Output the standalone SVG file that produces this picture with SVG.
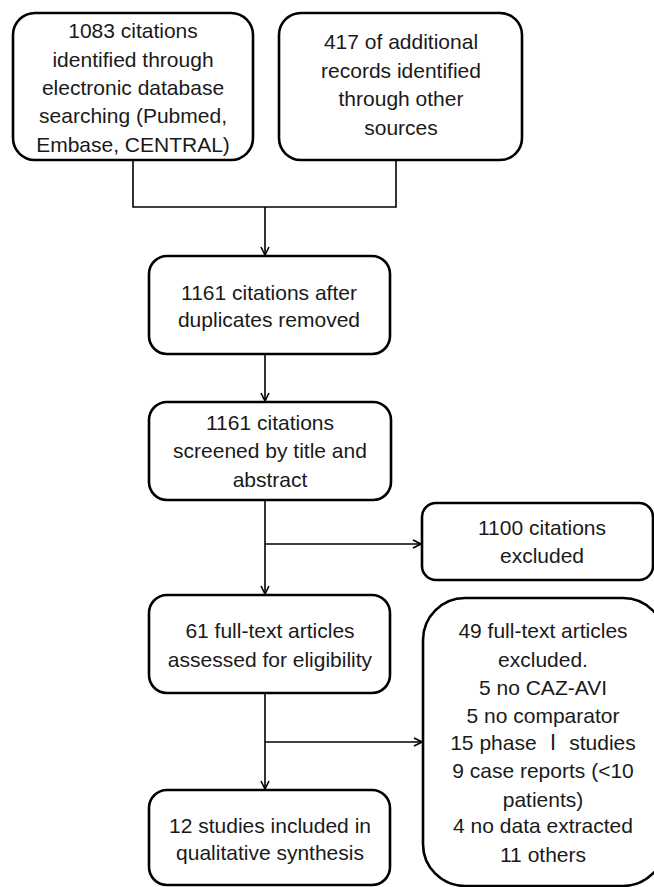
<svg xmlns="http://www.w3.org/2000/svg" width="654" height="887" viewBox="0 0 654 887">
<style>
.box{fill:#fff;stroke:#000;stroke-width:2.6}
.t{font-family:"Liberation Sans","Noto Sans CJK SC",sans-serif;font-size:21px;fill:#1a1a1a;text-anchor:middle}
.c{fill:none;stroke:#000;stroke-width:1.6}
</style>
<defs>
<marker id="arr" viewBox="0 0 10 10" refX="9" refY="5" markerWidth="10" markerHeight="10" markerUnits="userSpaceOnUse" orient="auto">
<path d="M1,1 L9,5 L1,9" fill="none" stroke="#000" stroke-width="1.6"/>
</marker>
</defs>
<rect width="654" height="887" fill="#fff"/>
<g id="connectors">
<path class="c" d="M133,160 V207 H396 V160"/>
<path class="c" d="M265,207 V255" marker-end="url(#arr)"/>
<path class="c" d="M265,354 V401" marker-end="url(#arr)"/>
<path class="c" d="M265,500 V594" marker-end="url(#arr)"/>
<path class="c" d="M265,544 H421" marker-end="url(#arr)"/>
<path class="c" d="M265,693 V789" marker-end="url(#arr)"/>
<path class="c" d="M265,742 H422" marker-end="url(#arr)"/>
</g>
<g id="n1">
<rect class="box" x="13" y="13" width="240" height="147" rx="22"/>
<text class="t" x="133" y="38">1083 citations</text>
<text class="t" x="133" y="67">identified through</text>
<text class="t" x="133" y="95">electronic database</text>
<text class="t" x="133" y="123">searching (Pubmed,</text>
<text class="t" x="133" y="152">Embase, CENTRAL)</text>
</g>
<g id="n2">
<rect class="box" x="279" y="13" width="243" height="147" rx="22"/>
<text class="t" x="401" y="49">417 of additional</text>
<text class="t" x="401" y="78">records identified</text>
<text class="t" x="401" y="106">through other</text>
<text class="t" x="401" y="135">sources</text>
</g>
<g id="n3">
<rect class="box" x="149" y="256" width="241" height="98" rx="18"/>
<text class="t" x="269" y="300">1161 citations after</text>
<text class="t" x="269" y="327">duplicates removed</text>
</g>
<g id="n4">
<rect class="box" x="149" y="402" width="242" height="98" rx="18"/>
<text class="t" x="270" y="430">1161 citations</text>
<text class="t" x="270" y="458">screened by title and</text>
<text class="t" x="270" y="487">abstract</text>
</g>
<g id="n5">
<rect class="box" x="422" y="503" width="231" height="77" rx="14"/>
<text class="t" x="542" y="535">1100 citations</text>
<text class="t" x="542" y="563">excluded</text>
</g>
<g id="n6">
<rect class="box" x="149" y="595" width="241" height="98" rx="18"/>
<text class="t" x="270" y="638">61 full-text  articles</text>
<text class="t" x="270" y="667">assessed for eligibility</text>
</g>
<g id="n7">
<rect class="box" x="423" y="598" width="242" height="288" rx="42"/>
<text class="t" x="543" y="638">49 full-text  articles</text>
<text class="t" x="543" y="667">excluded.</text>
<text class="t" x="543" y="695">5 no CAZ-AVI</text>
<text class="t" x="543" y="723">5 no comparator</text>
<text class="t" x="543" y="750">15 phase Ⅰ studies</text>
<text class="t" x="543" y="778">9 case reports (&lt;10</text>
<text class="t" x="543" y="807">patients)</text>
<text class="t" x="543" y="833">4 no data extracted</text>
<text class="t" x="543" y="862">11 others</text>
</g>
<g id="n8">
<rect class="box" x="149" y="790" width="241" height="95" rx="18"/>
<text class="t" x="270" y="833">12 studies included in</text>
<text class="t" x="270" y="860">qualitative synthesis</text>
</g>
</svg>
